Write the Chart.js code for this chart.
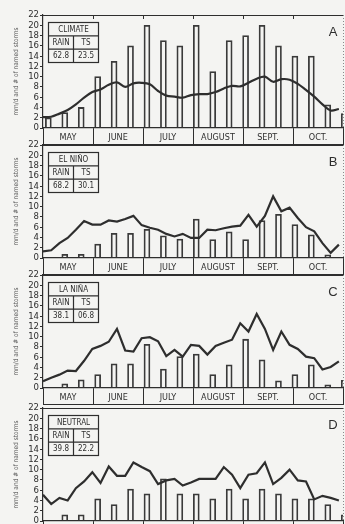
<!DOCTYPE html>
<html lang="en">
  <head>
    <meta charset="UTF-8" />
    <title>Rain and named storms by ENSO phase</title>
    <script src="https://cdn.jsdelivr.net/npm/chart.js"></script>
    <style>
      body {
        margin: 0;
        width: 345px;
        height: 524px;
        overflow: hidden;
        position: relative;
        background-color: #f4f4f2;
      }
      .panel {
        position: absolute;
        left: 0;
        width: 345px;
        height: 138px;
      }
    </style>
  </head>
  <body>
    <div class="panel" style="top: 8px"><canvas id="chartA"></canvas></div>
    <div class="panel" style="top: 138px"><canvas id="chartB"></canvas></div>
    <div class="panel" style="top: 268px"><canvas id="chartC"></canvas></div>
    <div class="panel" style="top: 401px"><canvas id="chartD"></canvas></div>

    <script>
      // month boxes under each panel
      const months = ["MAY", "JUNE", "JULY", "AUGUST", "SEPT.", "OCT."];

      // inset tables
      const phaseNames = ["CLIMATE", "EL NIÑO", "LA NIÑA", "NEUTRAL"];
      const panelLetters = ["A", "B", "C", "D"];
      const rainTotals = ["62.8", "68.2", "38.1", "39.8"];
      const stormTotals = ["23.5", "30.1", "06.8", "22.2"];

      // bars: one every 10 days (2 pentads), starting May 1
      const barsA = [2, 3, 4, 10, 13, 16, 20, 17, 16, 20, 11, 17, 18, 20, 16, 14, 14, 4.5, 2.8];
      const barsB = [0, 0.7, 0.7, 2.7, 4.8, 4.8, 5.6, 4.3, 3.7, 7.6, 3.6, 5.1, 3.6, 7.3, 8.5, 6.5, 4.5, 0.6, 0];
      const barsC = [0, 0.8, 1.6, 2.6, 4.7, 4.7, 8.5, 3.7, 6.1, 6.6, 2.6, 4.5, 9.5, 5.5, 1.4, 2.6, 4.5, 0.6, 1.5];
      const barsD = [0, 1.2, 1.2, 4.3, 3.2, 6.2, 5.3, 8.2, 5.3, 5.3, 4.3, 6.2, 4.3, 6.2, 5.3, 4.3, 4.3, 3.2, 1.2];

      // rain line: one value per pentad, starting May 1
      const rainA = [2.1, 2.2, 2.8, 3.5, 4.6, 5.9, 7.0, 7.5, 8.4, 8.9, 8.0, 8.7, 8.8, 8.5, 7.2, 6.3, 6.1, 5.9, 6.4, 6.6, 6.6, 7.0, 7.7, 8.2, 8.1, 8.8, 9.6, 10.0, 9.0, 9.5, 9.4, 8.6, 7.4, 6.1, 4.6, 3.4, 3.7];
      const rainB = [1.3, 1.5, 2.9, 3.9, 5.5, 7.2, 6.5, 6.5, 7.3, 7.1, 7.6, 8.2, 6.4, 5.9, 5.5, 4.7, 4.2, 4.7, 3.9, 3.9, 5.5, 5.4, 5.8, 6.1, 6.3, 8.4, 6.1, 8.2, 12.0, 9.1, 9.8, 7.8, 6.0, 5.2, 2.9, 1.0, 2.6];
      const rainC = [1.3, 2.0, 2.6, 3.4, 3.3, 5.3, 7.6, 8.2, 9.0, 11.5, 7.3, 7.1, 9.7, 9.9, 9.1, 6.2, 7.4, 6.1, 8.4, 8.2, 6.5, 8.2, 8.8, 9.4, 12.6, 11.0, 14.4, 11.5, 7.4, 11.0, 8.4, 7.6, 6.1, 5.8, 3.6, 4.1, 5.2];
      const rainD = [5.1, 3.3, 4.5, 4.0, 6.4, 7.7, 9.5, 7.4, 10.6, 8.8, 8.8, 11.4, 10.5, 9.7, 7.2, 7.9, 8.2, 6.9, 7.5, 8.2, 8.2, 8.2, 10.5, 9.0, 6.4, 9.0, 9.3, 11.4, 7.2, 8.4, 10.0, 7.9, 7.7, 4.2, 4.9, 4.5, 4.0];

      const ink = "#2e2e2e";
      const narrow = '"Liberation Sans Narrow", "DejaVu Sans Condensed", "Liberation Sans", sans-serif';
      const ROW = 17; // height of the month row

      const framePlugin = {
        id: "frame",
        afterDraw(chart, args, opts) {
          const { ctx, chartArea: a, scales } = chart;
          const m = scales.m;
          ctx.save();
          ctx.strokeStyle = ink;
          ctx.lineWidth = 1;

          // top border and bottom of the month row
          ctx.beginPath();
          ctx.moveTo(a.left, a.top + 0.5);
          ctx.lineTo(a.right, a.top + 0.5);
          ctx.moveTo(a.left, a.bottom + ROW - 0.5);
          ctx.lineTo(a.right, a.bottom + ROW - 0.5);
          ctx.stroke();

          // month ticks on the top border
          if (opts.topTicks) {
            ctx.beginPath();
            for (let i = 1; i < months.length; i++) {
              const x = Math.round((m.getPixelForValue(i - 1) + m.getPixelForValue(i)) / 2) + 0.5;
              ctx.moveTo(x, a.top);
              ctx.lineTo(x, a.top + 4);
            }
            ctx.stroke();
          }

          // dotted right edge
          ctx.save();
          ctx.strokeStyle = "#8a8a8a";
          ctx.setLineDash([1, 2]);
          ctx.beginPath();
          ctx.moveTo(a.right + 0.5, a.top);
          ctx.lineTo(a.right + 0.5, a.bottom);
          ctx.stroke();
          ctx.restore();

          // inset table
          const bx = a.left + 5.5, by = a.top + 7.5, bw = 50, bh = 40, rh = bh / 3, split = 25;
          ctx.lineWidth = 1.2;
          ctx.strokeRect(bx, by, bw, bh);
          ctx.beginPath();
          ctx.moveTo(bx, by + rh);
          ctx.lineTo(bx + bw, by + rh);
          ctx.moveTo(bx, by + 2 * rh);
          ctx.lineTo(bx + bw, by + 2 * rh);
          ctx.moveTo(bx + split, by + rh);
          ctx.lineTo(bx + split, by + bh);
          ctx.stroke();

          ctx.fillStyle = ink;
          ctx.textAlign = "center";
          ctx.textBaseline = "middle";
          ctx.font = "8px " + narrow;
          ctx.fillText(opts.name, bx + bw / 2, by + rh / 2 + 0.5);
          ctx.fillText("RAIN", bx + split / 2, by + rh * 1.5 + 0.5);
          ctx.fillText("TS", bx + split + (bw - split) / 2, by + rh * 1.5 + 0.5);
          ctx.fillText(opts.rain, bx + split / 2, by + rh * 2.5 + 0.5);
          ctx.fillText(opts.ts, bx + split + (bw - split) / 2, by + rh * 2.5 + 0.5);

          // panel letter
          ctx.font = "13px 'Liberation Sans', Arial, sans-serif";
          ctx.fillText(opts.letter, a.right - 10, a.top + 17);
          ctx.restore();
        },
      };

      function makePanel(id, idx, bars, rain) {
        const ctx = document.getElementById(id).getContext("2d");
        return new Chart(ctx, {
          data: {
            datasets: [
              {
                type: "line",
                label: "rain (mm/d)",
                data: rain.map((v, p) => ({ x: p, y: v })),
                borderColor: ink,
                borderWidth: 2.2,
                pointRadius: 0,
                tension: idx === 0 ? 0.35 : 0,
                order: 0,
              },
              {
                type: "bar",
                label: "# of named storms",
                data: bars.map((v, k) => ({ x: 2 * k + 0.65, y: v })),
                backgroundColor: "rgba(255,255,255,0)",
                borderColor: "#3a3a3a",
                borderWidth: 1.1,
                barThickness: 6,
                order: 1,
              },
            ],
          },
          options: {
            responsive: true,
            maintainAspectRatio: false,
            animation: false,
            layout: { padding: { top: 7, right: 2, bottom: 1, left: 12 } },
            plugins: {
              legend: { display: false },
              tooltip: { enabled: false },
              frame: {
                name: phaseNames[idx],
                rain: rainTotals[idx],
                ts: stormTotals[idx],
                letter: panelLetters[idx],
                topTicks: idx === 0,
              },
            },
            scales: {
              x: {
                type: "linear",
                display: false,
                offset: false,
                min: 0,
                max: 36.5,
              },
              m: {
                type: "category",
                axis: "x",
                position: "bottom",
                labels: months,
                offset: true,
                grid: {
                  offset: true,
                  drawOnChartArea: false,
                  drawTicks: true,
                  tickLength: ROW,
                  color: ink,
                  lineWidth: 1,
                },
                border: { display: true, color: ink, width: 1.2 },
                ticks: {
                  color: ink,
                  padding: -ROW + 4,
                  maxRotation: 0,
                  autoSkip: false,
                  font: { size: 9, family: narrow },
                },
                afterFit(scale) {
                  scale.height = ROW;
                },
              },
              y: {
                min: 0,
                max: 22,
                ticks: {
                  stepSize: 2,
                  autoSkip: false,
                  color: ink,
                  padding: 1,
                  font: { size: 9.5, family: narrow },
                },
                grid: {
                  drawOnChartArea: false,
                  tickLength: 3,
                  color: ink,
                },
                border: { color: ink, width: 1.2 },
                title: {
                  display: true,
                  text: "mm/d and # of named storms",
                  color: "#555",
                  font: { size: 6.5, family: narrow },
                  padding: 0,
                },
                afterFit(scale) {
                  scale.width = 31;
                },
              },
            },
          },
          plugins: [framePlugin],
        });
      }

      makePanel("chartA", 0, barsA, rainA);
      makePanel("chartB", 1, barsB, rainB);
      makePanel("chartC", 2, barsC, rainC);
      makePanel("chartD", 3, barsD, rainD);
    </script>
  </body>
</html>
